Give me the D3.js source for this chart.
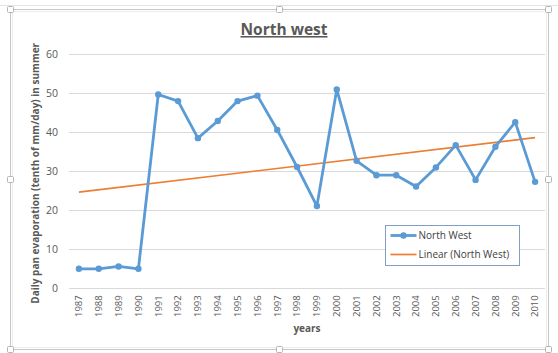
<!DOCTYPE html>
<html>
<head>
<meta charset="utf-8">
<script src="https://cdn.jsdelivr.net/npm/d3@7"></script>
<style>
  html, body { margin: 0; padding: 0; background: #fff; }
  svg { display: block; font-family: "Open Sans", "Liberation Sans", sans-serif; }
</style>
</head>
<body>
<svg id="chart" width="558" height="353"></svg>
<script>
// Values
const years = ["1987", "1988", "1989", "1990", "1991", "1992", "1993", "1994", "1995", "1996", "1997", "1998",
  "1999", "2000", "2001", "2002", "2003", "2004", "2005", "2006", "2007", "2008", "2009", "2010"];
const northWest = [5.0, 5.0, 5.6, 5.0, 49.7, 48.0, 38.5, 42.9, 48.0, 49.4, 40.6, 31.1,
  21.1, 51.0, 32.7, 29.0, 29.0, 26.1, 31.0, 36.7, 27.8, 36.3, 42.6, 27.3];
const yTicks = [0, 10, 20, 30, 40, 50, 60];

const svg = d3.select("#chart");
const W = 558, H = 353;

// plot area
const plotL = 69, plotR = 545, plotT = 54.3, plotB = 288.3;

const x = d3.scaleBand().domain(years).range([plotL, plotR]);
const y = d3.scaleLinear().domain([0, 60]).range([plotB, plotT]);
const cx = d => x(d) + x.bandwidth() / 2;

// chart frame (selected chart look)
svg.append("line")
  .attr("x1", 0).attr("x2", W).attr("y1", 5.5).attr("y2", 5.5)
  .attr("stroke", "#e4e4e4");
svg.append("rect")
  .attr("x", 10.5).attr("y", 9.5).attr("width", 538).attr("height", 340)
  .attr("fill", "#fff").attr("stroke", "#c6c6c6");
svg.append("rect")
  .attr("x", 12.5).attr("y", 11.5).attr("width", 534).attr("height", 336)
  .attr("fill", "none").attr("stroke", "#ececec");
const handles = [[10.5, 9.5], [279.5, 9.5], [548.5, 9.5], [10.5, 179.5], [548.5, 179.5],
  [10.5, 349.5], [279.5, 349.5], [548.5, 349.5]];
svg.append("g").selectAll("rect").data(handles).join("rect")
  .attr("x", d => d[0] - 3).attr("y", d => d[1] - 3)
  .attr("width", 6).attr("height", 6).attr("rx", 1)
  .attr("fill", "#fff").attr("stroke", "#b5b5b5");

// gridlines
svg.append("g").selectAll("line").data(yTicks).join("line")
  .attr("x1", plotL).attr("x2", plotR)
  .attr("y1", d => Math.round(y(d)) + 0.5).attr("y2", d => Math.round(y(d)) + 0.5)
  .attr("stroke", "#d9d9d9");

// y axis labels
const yAxis = svg.append("g")
  .attr("transform", `translate(${plotL - 11},0)`)
  .call(d3.axisLeft(y).tickValues(yTicks).tickSize(0).tickPadding(0));
yAxis.select(".domain").remove();
yAxis.selectAll("text")
  .attr("fill", "#595959").attr("font-size", 10.5)
  .style("font-family", "'Open Sans', sans-serif");

// x axis labels
const xAxis = svg.append("g")
  .attr("transform", `translate(0,${plotB})`)
  .call(d3.axisBottom(x).tickSize(0).tickPadding(0));
xAxis.select(".domain").remove();
xAxis.selectAll("text")
  .attr("transform", "rotate(-90)")
  .attr("text-anchor", "end")
  .attr("x", -7).attr("y", 0).attr("dy", "0.35em")
  .attr("fill", "#595959").attr("font-size", 9.5)
  .style("font-family", "'Open Sans', sans-serif");

// linear trend (least squares fit of the series)
const n = northWest.length;
const mx = d3.mean(d3.range(n));
const my = d3.mean(northWest);
const slope = d3.sum(northWest, (v, i) => (i - mx) * (v - my)) / d3.sum(d3.range(n), i => (i - mx) ** 2);
const icpt = my - slope * mx;
svg.append("line")
  .attr("x1", cx(years[0])).attr("y1", y(icpt))
  .attr("x2", cx(years[n - 1])).attr("y2", y(icpt + slope * (n - 1)))
  .attr("stroke", "#ed7d31").attr("stroke-width", 1.7);

// series
const line = d3.line().x((d, i) => cx(years[i])).y(d => y(d));
svg.append("path")
  .datum(northWest)
  .attr("d", line)
  .attr("fill", "none").attr("stroke", "#5b9bd5")
  .attr("stroke-width", 2.8).attr("stroke-linejoin", "round");
svg.append("g").selectAll("circle").data(northWest).join("circle")
  .attr("cx", (d, i) => cx(years[i])).attr("cy", d => y(d))
  .attr("r", 3.2).attr("fill", "#5b9bd5");

// title
svg.append("text")
  .attr("x", 284).attr("y", 35)
  .attr("text-anchor", "middle")
  .attr("font-size", 15.5).attr("font-weight", "bold")
  .attr("fill", "#595959")
  .attr("text-decoration", "underline")
  .text("North west");

// axis titles
svg.append("text")
  .attr("transform", `translate(39,${(plotT + plotB) / 2 + 2}) rotate(-90)`)
  .attr("text-anchor", "middle")
  .attr("font-size", 10).attr("font-weight", "bold")
  .attr("fill", "#595959")
  .text("Daily pan evaporation (tenth of mm/day) in summer");
svg.append("text")
  .attr("x", (plotL + plotR) / 2).attr("y", 332)
  .attr("text-anchor", "middle")
  .attr("font-size", 10).attr("font-weight", "bold")
  .attr("fill", "#595959")
  .text("years");

// legend
const lg = svg.append("g").attr("transform", "translate(385.5,225.5)");
lg.append("rect").attr("width", 134).attr("height", 40)
  .attr("fill", "#fff").attr("stroke", "#7f9fc4");
lg.append("line").attr("x1", 5).attr("x2", 31).attr("y1", 10).attr("y2", 10)
  .attr("stroke", "#5b9bd5").attr("stroke-width", 2.8);
lg.append("circle").attr("cx", 18).attr("cy", 10).attr("r", 3.2).attr("fill", "#5b9bd5");
lg.append("text").attr("x", 33).attr("y", 10).attr("dy", "0.35em")
  .attr("font-size", 10).attr("fill", "#404040").text("North West");
lg.append("line").attr("x1", 5).attr("x2", 31).attr("y1", 29).attr("y2", 29)
  .attr("stroke", "#ed7d31").attr("stroke-width", 1.7);
lg.append("text").attr("x", 33).attr("y", 29).attr("dy", "0.35em")
  .attr("font-size", 10).attr("fill", "#404040").text("Linear (North West)");
</script>
</body>
</html>
